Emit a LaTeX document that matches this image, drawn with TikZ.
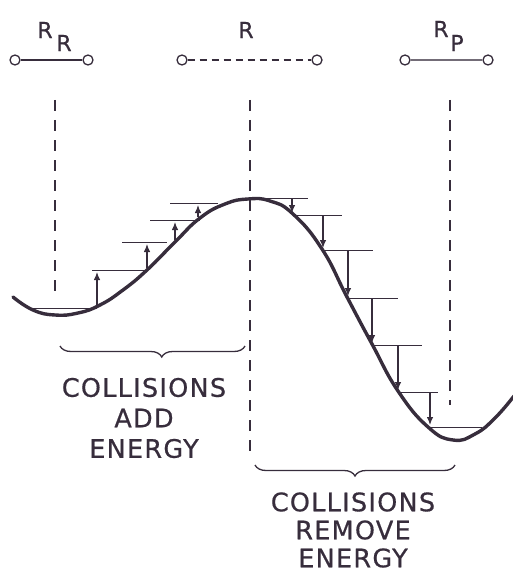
\documentclass[tikz,border=0pt]{standalone}
\usepackage{fontspec}
\setmainfont{DejaVu Sans}[LetterSpace=5, FakeBold=0.6]
\usepackage{xcolor}
\usetikzlibrary{arrows.meta, decorations.pathreplacing}
\definecolor{ink}{RGB}{55,45,60}
\tikzset{
  atom/.style={circle, draw=ink, line width=1.3pt, inner sep=0pt, minimum size=10pt},
  rname/.style={text=ink, font=\fontsize{22}{22}\selectfont, inner sep=0pt},
  level/.style={ink, line width=1pt},
  jump/.style={ink, line width=1.1pt, -{Latex[length=8pt,width=6.5pt]}},
  guide/.style={ink, line width=1.4pt, dash pattern=on 11pt off 9pt},
  brace/.style={ink, line width=1.3pt, decorate, decoration={brace, mirror, amplitude=11pt}},
  caption/.style={align=center, text=ink, inner sep=0pt}
}
\begin{document}
\begin{tikzpicture}[x=1pt, y=-1pt, >=Stealth]
\useasboundingbox (0,0) rectangle (512,575);

\node[atom] (rra) at (15,60) {};
\node[atom] (rrb) at (88,60) {};
\draw[ink, line width=1.3pt] (rra) -- (rrb);
\node[rname] (lrr) at (45,30) {R};
\node[rname] (lrrs) at (64,43) {R};

\node[atom] (tsa) at (182,60) {};
\node[atom] (tsb) at (317,60) {};
\draw[ink, line width=1.2pt, dash pattern=on 7pt off 5pt] (tsa) -- (tsb);
\node[rname] (lts) at (246,30) {R};

\node[atom] (rpa) at (405,60) {};
\node[atom] (rpb) at (488,60) {};
\draw[ink!70, line width=1.4pt] (rpa) -- (rpb);
\node[rname] (lrp) at (441,29) {R};
\node[rname] (lrps) at (457,43) {P};

\coordinate (gl) at (55,100);
\coordinate (gm) at (250,100);
\coordinate (gr) at (450,100);
\draw[guide] (gl) -- (55,298);
\draw[guide] (gm) -- (250,456);
\draw[guide] (gr) -- (450,405);

\draw[ink, line width=3.4pt, line cap=round] plot[smooth, tension=0.8] coordinates {
  (13,297) (33,310) (55,315) (78,313) (100,305) (123,290) (147,270) (175,242)
  (200,218) (225,204) (248,199) (270,201) (293,214) (322,249) (347,297)
  (372,344) (398,391) (428,427) (453,440) (475,434) (495,418) (514,396)};

\draw[level] (30,308) -- (97,308);
\draw[level] (92,270) -- (147,270);
\draw[level] (122,242) -- (167,242);
\draw[level] (150,220) -- (200,220);
\draw[level] (170,203) -- (218,203);
\draw[jump] (97,306) -- (97,272);
\draw[jump] (147,268) -- (147,244);
\draw[jump] (175,240) -- (175,222);
\draw[jump] (198,217) -- (198,205);

\draw[level] (262,198) -- (308,198);
\draw[level] (293,215) -- (342,215);
\draw[level] (322,250) -- (373,250);
\draw[level] (347,298) -- (398,298);
\draw[level] (372,345) -- (422,345);
\draw[level] (398,392) -- (438,392);
\draw[level] (428,427) -- (482,427);
\draw[jump] (292,198) -- (292,213);
\draw[jump] (323,215) -- (323,248);
\draw[jump] (348,250) -- (348,296);
\draw[jump] (372,298) -- (372,343);
\draw[jump] (398,345) -- (398,390);
\draw[jump] (430,392) -- (430,425);

\draw[brace, decoration={aspect=0.55}] (60,346) -- (245,346);
\draw[brace, decoration={aspect=0.5}] (255,465) -- (455,465);

\node[caption, font=\fontsize{25.5}{30.5}\selectfont] (add) at (144,418) {COLLISIONS\\ADD\\ENERGY};
\node[caption, font=\fontsize{25.5}{28}\selectfont] (rem) at (353,530) {COLLISIONS\\REMOVE\\ENERGY};
\end{tikzpicture}
\end{document}
